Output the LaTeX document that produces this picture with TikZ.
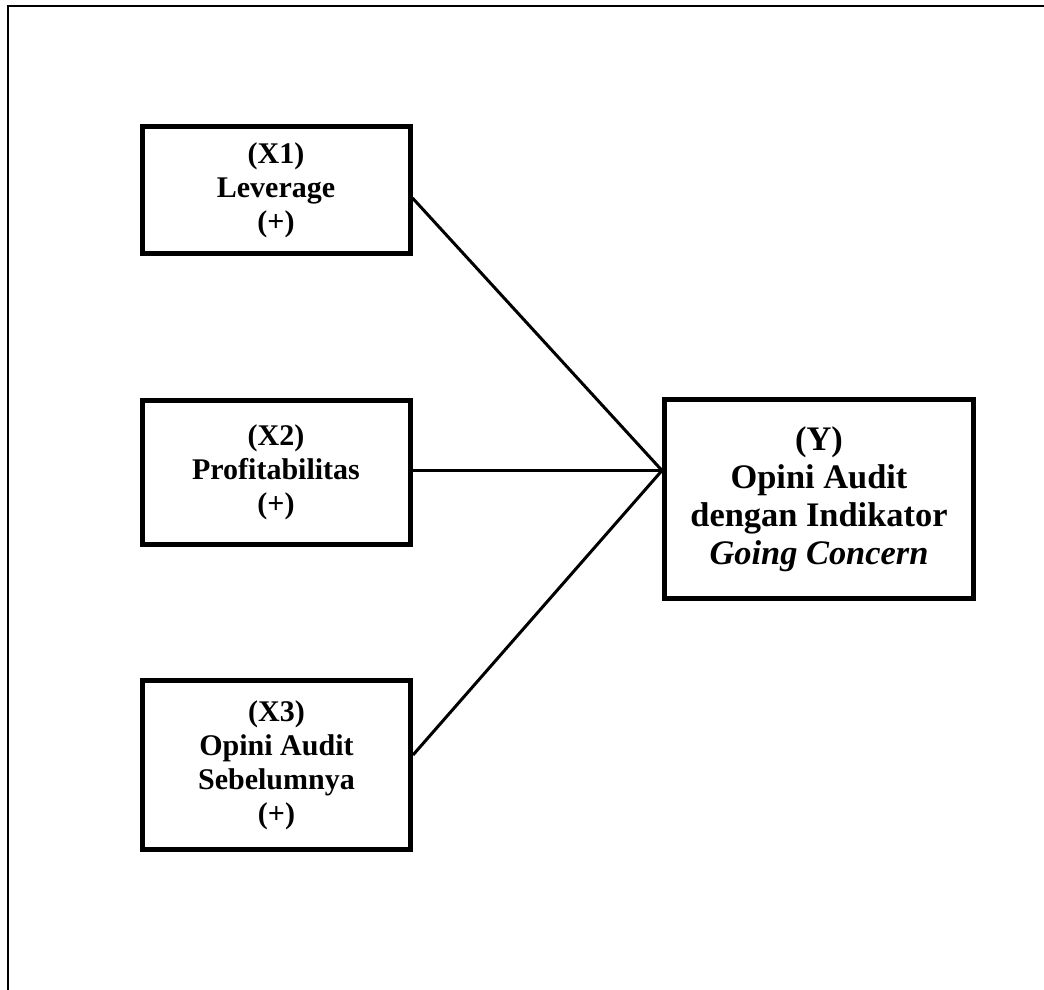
\documentclass[tikz,border=0pt]{standalone}
\usepackage{fontspec}
\setmainfont{Liberation Serif}

\begin{document}
\begin{tikzpicture}[x=0.5pt, y=-0.5pt,
  block/.style={rectangle, draw, line width=2.5pt, minimum width=134pt, align=center, inner sep=0pt, font=\bfseries\fontsize{15pt}{17pt}\selectfont},
  bigblock/.style={block, minimum width=154.5pt, font=\bfseries\fontsize{17.2pt}{19pt}\selectfont},
  link/.style={line width=1.5pt}]

    \useasboundingbox (0,0) rectangle (1044,990);
    \draw[line width=1pt] (8,990) -- (8,6.5) -- (1044,6.5);

    \node[block, minimum height=63.5pt] (x1) at (276,190) {(X1)\\Leverage\\(+)};
    \node[block, minimum height=72pt] (x2) at (276,472.5) {(X2)\\Profitabilitas\\(+)};
    \node[block, minimum height=84.5pt] (x3) at (276.5,765) {(X3)\\Opini Audit\\Sebelumnya\\(+)};
    \node[bigblock, minimum height=99.5pt] (opini) at (819,499) {(Y)\\Opini Audit\\dengan Indikator\\\textit{Going Concern}};
    \coordinate (hub) at ([yshift=1pt]opini.west |- x2.east);

    \draw[link] ([yshift=-4pt]x1.east) -- (hub);
    \draw[link] (x2.east |- hub) -- (hub);
    \draw[link] ([yshift=5pt]x3.east) -- (hub);

\end{tikzpicture}
\end{document}
